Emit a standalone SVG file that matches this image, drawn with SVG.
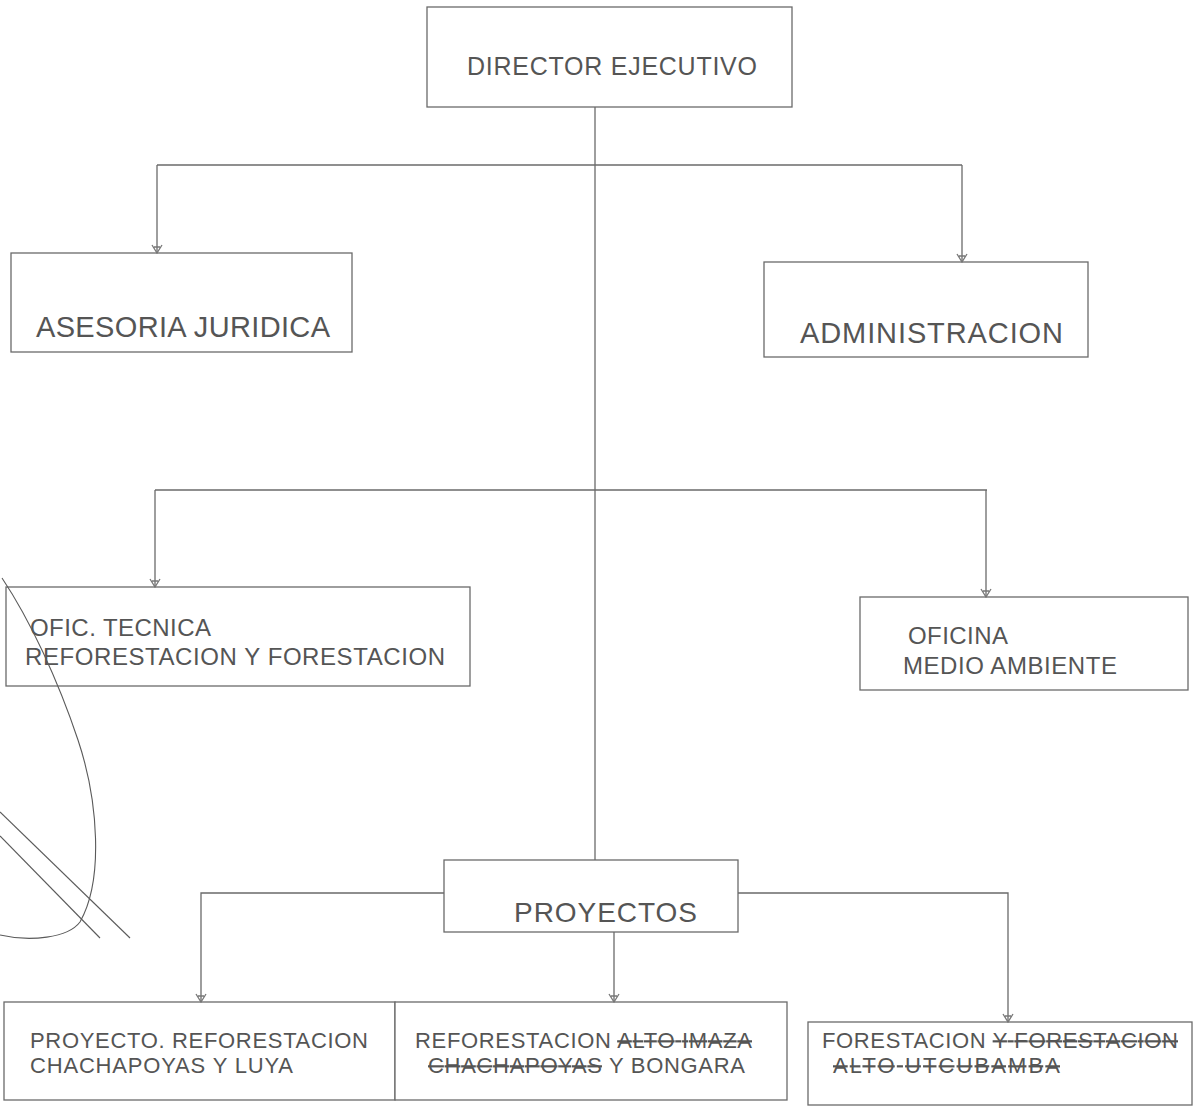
<svg xmlns="http://www.w3.org/2000/svg" width="1198" height="1109" viewBox="0 0 1198 1109">
<style>
.box{fill:#fff;stroke:#6a6a6a;stroke-width:1.3}
.t{font-family:"Liberation Sans",Arial,sans-serif;fill:#555}
.c{fill:none;stroke:#6a6a6a;stroke-width:1.3}
.pen{fill:none;stroke:#5a5a5a;stroke-width:1.1}
.strike{text-decoration:line-through}
</style>
<defs>
<marker id="ah" viewBox="0 0 12 12" refX="6" refY="11" markerWidth="12" markerHeight="12" markerUnits="userSpaceOnUse" orient="0">
<path d="M1,3 L6,11 L11,3 M3,5 H9" fill="none" stroke="#777" stroke-width="1.3"/>
</marker>
</defs>
<rect width="1198" height="1109" fill="#fff"/>
<g id="director">
<rect class="box" x="427" y="7" width="365" height="100"/>
<text class="t" x="467" y="75" font-size="25" textLength="290">DIRECTOR EJECUTIVO</text>
</g>
<g id="asesoria">
<rect class="box" x="11" y="253" width="341" height="99"/>
<text class="t" x="36" y="337" font-size="29" textLength="294">ASESORIA JURIDICA</text>
</g>
<g id="administracion">
<rect class="box" x="764" y="262" width="324" height="95"/>
<text class="t" x="800" y="343" font-size="29" textLength="263">ADMINISTRACION</text>
</g>
<g id="oficTecnica">
<rect class="box" x="6" y="587" width="464" height="99"/>
<text class="t" x="30" y="636" font-size="24" textLength="181">OFIC. TECNICA</text>
<text class="t" x="25" y="665" font-size="24" textLength="420">REFORESTACION Y FORESTACION</text>
</g>
<g id="medioAmbiente">
<rect class="box" x="860" y="597" width="328" height="93"/>
<text class="t" x="908" y="644" font-size="24" textLength="100">OFICINA</text>
<text class="t" x="903" y="674" font-size="24" textLength="214">MEDIO AMBIENTE</text>
</g>
<g id="proyectos">
<rect class="box" x="444" y="860" width="294" height="72"/>
<text class="t" x="514" y="922" font-size="28" textLength="183">PROYECTOS</text>
</g>
<g id="proyecto1">
<rect class="box" x="4" y="1002" width="391" height="98"/>
<text class="t" x="30" y="1048" font-size="22" textLength="338">PROYECTO. REFORESTACION</text>
<text class="t" x="30" y="1073" font-size="22" textLength="263">CHACHAPOYAS Y LUYA</text>
</g>
<g id="proyecto2">
<rect class="box" x="395" y="1002" width="392" height="98"/>
<text class="t" x="415" y="1048" font-size="22" textLength="337">REFORESTACION <tspan class="strike">ALTO IMAZA</tspan></text>
<text class="t" x="428" y="1073" font-size="22" textLength="317"><tspan class="strike">CHACHAPOYAS</tspan> Y BONGARA</text>
</g>
<g id="proyecto3">
<rect class="box" x="808" y="1022" width="384" height="83"/>
<text class="t" x="822" y="1048" font-size="22" textLength="356">FORESTACION <tspan class="strike">Y FORESTACION</tspan></text>
<text class="t" x="833" y="1073" font-size="22" textLength="227"><tspan class="strike">ALTO UTCUBAMBA</tspan></text>
</g>
<g id="connectors">
<path class="c" d="M595,107 V860"/>
<path class="c" d="M157,165 H962"/>
<path class="c" d="M157,165 V253" marker-end="url(#ah)"/>
<path class="c" d="M962,165 V262" marker-end="url(#ah)"/>
<path class="c" d="M155,490 H987"/>
<path class="c" d="M155,490 V587" marker-end="url(#ah)"/>
<path class="c" d="M986,490 V597" marker-end="url(#ah)"/>
<path class="c" d="M444,893 H201 V1002" marker-end="url(#ah)"/>
<path class="c" d="M614,932 V1002" marker-end="url(#ah)"/>
<path class="c" d="M738,893 H1008 V1022" marker-end="url(#ah)"/>
</g>
<g id="pen">
<path class="pen" d="M2,578 C30,620 58,680 78,740 C98,800 104,880 80,922 C68,938 30,942 0,935"/>
<path class="pen" d="M0,812 L130,938"/>
<path class="pen" d="M0,836 L100,938"/>
</g>
</svg>
